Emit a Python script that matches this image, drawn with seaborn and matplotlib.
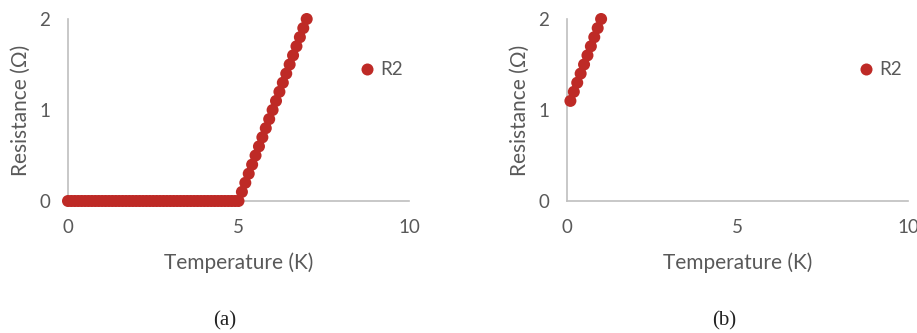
import matplotlib

matplotlib.use("Agg")
import matplotlib.pyplot as plt
import pandas as pd
import seaborn as sns

# panel (a): flat at zero up to 5 K, then rising
temp_a = [0.0, 0.1, 0.2, 0.3, 0.4, 0.5, 0.6, 0.7, 0.8, 0.9,
          1.0, 1.1, 1.2, 1.3, 1.4, 1.5, 1.6, 1.7, 1.8, 1.9,
          2.0, 2.1, 2.2, 2.3, 2.4, 2.5, 2.6, 2.7, 2.8, 2.9,
          3.0, 3.1, 3.2, 3.3, 3.4, 3.5, 3.6, 3.7, 3.8, 3.9,
          4.0, 4.1, 4.2, 4.3, 4.4, 4.5, 4.6, 4.7, 4.8, 4.9, 5.0,
          5.1, 5.2, 5.3, 5.4, 5.5, 5.6, 5.7, 5.8, 5.9, 6.0,
          6.1, 6.2, 6.3, 6.4, 6.5, 6.6, 6.7, 6.8, 6.9, 7.0]
res_a = [0.0] * 51 + [0.1, 0.2, 0.3, 0.4, 0.5, 0.6, 0.7, 0.8, 0.9, 1.0,
                      1.1, 1.2, 1.3, 1.4, 1.5, 1.6, 1.7, 1.8, 1.9, 2.0]

# panel (b)
temp_b = [0.1, 0.2, 0.3, 0.4, 0.5, 0.6, 0.7, 0.8, 0.9, 1.0]
res_b = [1.1, 1.2, 1.3, 1.4, 1.5, 1.6, 1.7, 1.8, 1.9, 2.0]

captions = ["(a)", "(b)"]
x_ticks = [0, 5, 10]
y_ticks = [0, 1, 2]

RED = "#BE2A26"
GREY_TXT = "#595959"
GREY_LINE = "#BFBFBF"

sns.set_style("white")
plt.rcParams["font.family"] = ["Lato", "DejaVu Sans"]

W, H = 917, 333
fig = plt.figure(figsize=(W / 100, H / 100), dpi=100)

panels = [
    (pd.DataFrame({"T": temp_a, "R": res_a, "s": "R2"}), 68),
    (pd.DataFrame({"T": temp_b, "R": res_b, "s": "R2"}), 567),
]

for (df, left_px), cap in zip(panels, captions):
    ax = fig.add_axes([left_px / W, (H - 201) / H, 341 / W, 182 / H])
    sns.scatterplot(data=df, x="T", y="R", hue="s", palette=[RED], s=75,
                    linewidth=0, ax=ax, clip_on=False, zorder=3)
    ax.set_xlim(0, 10)
    ax.set_ylim(0, 2)
    ax.set_xticks(x_ticks)
    ax.set_yticks(y_ticks)
    for side in ["top", "right"]:
        ax.spines[side].set_visible(False)
    for side in ["left", "bottom"]:
        ax.spines[side].set_color(GREY_LINE)
        ax.spines[side].set_linewidth(1.2)
    ax.tick_params(axis="both", colors=GREY_LINE, length=5, width=1.2,
                   labelsize=13.5, labelcolor=GREY_TXT, direction="out")
    ax.tick_params(axis="y", pad=8)
    ax.tick_params(axis="x", pad=8)
    ax.set_xlabel("Temperature (K)", fontsize=15, color=GREY_TXT, labelpad=12)
    ax.set_ylabel("Resistance (Ω)", fontsize=15, color=GREY_TXT, labelpad=6)
    leg = ax.legend(loc="center left", bbox_to_anchor=(0.79, 0.72), frameon=False,
                    fontsize=13.5, handletextpad=0.0, handlelength=1.4)
    for t in leg.get_texts():
        t.set_color(GREY_TXT)
    ax.text(0.46, -0.66, cap, transform=ax.transAxes, ha="center", va="center",
            fontsize=15, family="Liberation Serif", color="#222222")

fig.savefig("out.png", dpi=100)
